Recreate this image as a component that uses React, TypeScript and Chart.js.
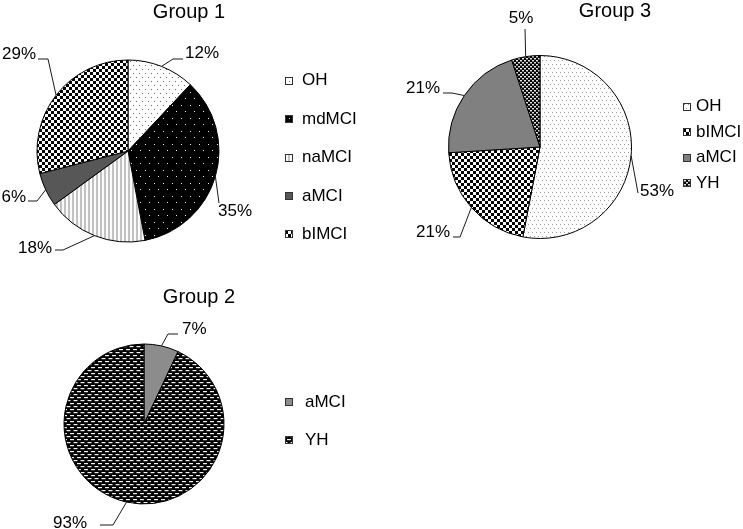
import React, { useEffect, useRef } from 'react';
import { Chart, registerables } from 'chart.js';
Chart.register(...registerables);

// ---- data ----
const group1Labels = ['OH', 'mdMCI', 'naMCI', 'aMCI', 'bIMCI'];
const group1Values = [12, 35, 18, 6, 29];
const group2Labels = ['aMCI', 'YH'];
const group2Values = [7, 93];
const group3Labels = ['OH', 'bIMCI', 'aMCI', 'YH'];
const group3Values = [53, 21, 21, 5];

const group1Fills = ['dotsLight', 'darkDots', 'vstripes', 'solidDark', 'checker'];
const group2Fills = ['solidGray2', 'dashes'];
const group3Fills = ['dotsFine', 'checker', 'solidMid', 'darkChecker'];

const FONT = '"Liberation Sans", Arial, Helvetica, sans-serif';

type Pt = [number, number];
interface Leader { path: Pt[]; tx: number; ty: number; align: CanvasTextAlign; }
interface Spec {
  title: string; titleX: number; titleY: number;
  left: number; top: number; width: number; height: number;
  cx: number; cy: number; r: number;
  labels: string[]; values: number[]; fills: string[];
  leaders: Leader[];
  boxX: number; textX: number; legendYs: number[];
}

function tile(ctx: CanvasRenderingContext2D, w: number, h: number, bg: string, fg: string, rects: number[][]) {
  const c = document.createElement('canvas');
  c.width = w; c.height = h;
  const t = c.getContext('2d')!;
  t.fillStyle = bg; t.fillRect(0, 0, w, h);
  t.fillStyle = fg;
  rects.forEach(([x, y, rw, rh]) => {
    for (const dx of [-w, 0]) for (const dy of [-h, 0]) t.fillRect(x + dx, y + dy, rw, rh);
  });
  return ctx.createPattern(c, 'repeat') as CanvasPattern;
}

function makeFill(ctx: CanvasRenderingContext2D, kind: string): string | CanvasPattern {
  switch (kind) {
    case 'dotsLight': return tile(ctx, 6, 8, '#ffffff', '#6a6a6a', [[1, 1, 1, 1], [4, 5, 1, 1]]);
    case 'darkDots': return tile(ctx, 9, 13, '#000000', '#f0f0f0', [[1, 1, 1, 1], [5, 7, 1, 1]]);
    case 'vstripes': {
      const c = document.createElement('canvas'); c.width = 4; c.height = 1;
      const t = c.getContext('2d')!;
      t.fillStyle = '#c2c2c2'; t.fillRect(0, 0, 2, 1);
      t.fillStyle = '#fbfbfb'; t.fillRect(2, 0, 2, 1);
      return ctx.createPattern(c, 'repeat') as CanvasPattern;
    }
    case 'solidDark': return '#575757';
    case 'checker': return tile(ctx, 6, 6, '#ffffff', '#000000', [[0, 0, 3, 3], [3, 3, 3, 3]]);
    case 'dotsFine': return tile(ctx, 4, 8, '#ffffff', '#9a9a9a', [[0, 0, 1, 1], [2, 4, 1, 1]]);
    case 'solidMid': return '#808080';
    case 'darkChecker': return tile(ctx, 4, 4, '#000000', '#e0e0e0', [[0, 0, 2, 1.5], [2, 2, 2, 1.5]]);
    case 'solidGray2': return '#8c8c8c';
    case 'dashes': return tile(ctx, 7, 6, '#000000', '#f2f2f2', [[0, 0, 4, 1.2], [3.5, 3, 4, 1.2]]);
  }
  return '#888';
}

const specs: Spec[] = [
  {
    title: 'Group 1', titleX: 189, titleY: 17.5,
    left: 0, top: 0, width: 380, height: 265,
    cx: 128, cy: 151, r: 91,
    labels: group1Labels, values: group1Values, fills: group1Fills,
    leaders: [
      { path: [[173, 59], [183, 59]], tx: 185, ty: 53, align: 'left' },
      { path: [[219, 203]], tx: 218, ty: 211, align: 'left' },
      { path: [[63, 250], [55, 250]], tx: 52, ty: 248, align: 'right' },
      { path: [[37, 201], [28, 201]], tx: 26, ty: 197, align: 'right' },
      { path: [[48, 59], [38, 59]], tx: 36, ty: 54, align: 'right' },
    ],
    boxX: 285, textX: 302, legendYs: [80.5, 119, 157.5, 196, 234],
  },
  {
    title: 'Group 3', titleX: 615, titleY: 16.5,
    left: 380, top: 0, width: 363, height: 265,
    cx: 540, cy: 147, r: 91.5,
    labels: group3Labels, values: group3Values, fills: group3Fills,
    leaders: [
      { path: [[638, 193]], tx: 640, ty: 191, align: 'left' },
      { path: [[460, 237], [453, 237]], tx: 450, ty: 232, align: 'right' },
      { path: [[452, 93], [443, 93]], tx: 440, ty: 88, align: 'right' },
      { path: [[525, 29]], tx: 521, ty: 18, align: 'center' },
    ],
    boxX: 683, textX: 696, legendYs: [106.5, 132, 157.5, 183],
  },
  {
    title: 'Group 2', titleX: 199, titleY: 302.5,
    left: 0, top: 265, width: 380, height: 264,
    cx: 144, cy: 424, r: 80,
    labels: group2Labels, values: group2Values, fills: group2Fills,
    leaders: [
      { path: [[168, 334], [178, 334]], tx: 182, ty: 329, align: 'left' },
      { path: [[113, 525], [100, 525]], tx: 87, ty: 523, align: 'right' },
    ],
    boxX: 285, textX: 305, legendYs: [402, 440],
  },
];

function PieChart({ spec }: { spec: Spec }) {
  const ref = useRef<HTMLCanvasElement>(null);
  useEffect(() => {
    const canvas = ref.current!;
    const ctx = canvas.getContext('2d')!;
    const fills = spec.fills.map((f) => makeFill(ctx, f));
    const half = spec.r + 0.5;
    const lx = spec.cx - spec.left, ly = spec.cy - spec.top;
    const overlay = {
      id: 'overlay' + spec.title,
      afterDraw(chart: any) {
        const c: CanvasRenderingContext2D = chart.ctx;
        const ox = spec.left, oy = spec.top;
        c.save();
        c.fillStyle = '#000';
        c.font = `20px ${FONT}`;
        c.textAlign = 'center';
        c.textBaseline = 'alphabetic';
        c.fillText(spec.title, spec.titleX - ox, spec.titleY - oy);

        const meta = chart.getDatasetMeta(0);
        meta.data.forEach((arc: any, i: number) => {
          const p = arc.getProps(['x', 'y', 'startAngle', 'endAngle', 'outerRadius'], true);
          const mid = (p.startAngle + p.endAngle) / 2;
          const px = p.x + Math.cos(mid) * p.outerRadius;
          const py = p.y + Math.sin(mid) * p.outerRadius;
          const L = spec.leaders[i];
          c.beginPath();
          c.moveTo(px, py);
          L.path.forEach(([a, b]) => c.lineTo(a - ox, b - oy));
          c.strokeStyle = '#1a1a1a';
          c.lineWidth = 1;
          c.stroke();
          c.fillStyle = '#000';
          c.font = `17px ${FONT}`;
          c.textAlign = L.align;
          c.textBaseline = 'middle';
          c.fillText(spec.values[i] + '%', L.tx - ox, L.ty - oy);
        });

        spec.legendYs.forEach((y, i) => {
          const bx = spec.boxX - ox, by = Math.round(y - oy - 4);
          c.fillStyle = fills[i] as any;
          c.fillRect(bx, by, 8, 8);
          c.strokeStyle = '#333';
          c.lineWidth = 1;
          c.strokeRect(bx + 0.5, by + 0.5, 7, 7);
          c.fillStyle = '#000';
          c.font = `17px ${FONT}`;
          c.textAlign = 'left';
          c.textBaseline = 'middle';
          c.fillText(spec.labels[i], spec.textX - ox, y - oy);
        });
        c.restore();
      },
    };
    const chart = new Chart(canvas, {
      type: 'pie',
      data: {
        labels: spec.labels,
        datasets: [{
          data: spec.values,
          backgroundColor: fills as any,
          borderColor: '#000',
          borderWidth: 1,
        }],
      },
      options: {
        responsive: false,
        animation: false,
        events: [],
        layout: {
          padding: {
            left: lx - half,
            right: spec.width - (lx + half),
            top: ly - half,
            bottom: spec.height - (ly + half),
          },
        },
        plugins: {
          legend: { display: false },
          tooltip: { enabled: false },
          title: { display: false },
        },
      },
      plugins: [overlay],
    });
    return () => chart.destroy();
  }, [spec]);
  return (
    <canvas
      ref={ref}
      width={spec.width}
      height={spec.height}
      style={{ position: 'absolute', left: spec.left, top: spec.top, width: spec.width, height: spec.height }}
    />
  );
}

export default function App() {
  return (
    <div style={{ position: 'absolute', left: 0, top: 0, width: 743, height: 529, background: '#fff', overflow: 'hidden' }}>
      {specs.map((s) => <PieChart key={s.title} spec={s} />)}
    </div>
  );
}
